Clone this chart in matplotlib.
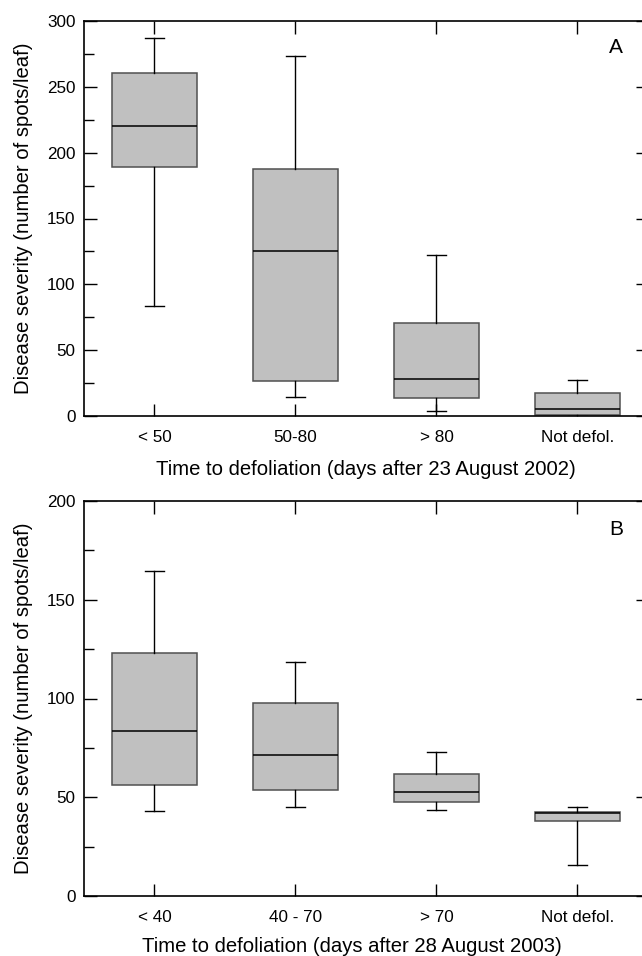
import matplotlib.pyplot as plt
from matplotlib.ticker import MultipleLocator

plt.rcParams['font.family'] = ['Liberation Sans', 'DejaVu Sans']

# Panel A: 2002
cats_a = ['< 50', '50-80', '> 80', 'Not defol.']
whislo_a = [83.5, 14.4, 3.8, 0.0]
q1_a = [189.0, 26.6, 13.9, 0.6]
med_a = [220.3, 125.2, 27.8, 5.1]
q3_a = [260.3, 187.7, 70.3, 17.2]
whishi_a = [287.0, 273.7, 122.0, 27.6]

# Panel B: 2003
cats_b = ['< 40', '40 - 70', '> 70', 'Not defol.']
whislo_b = [43.2, 44.9, 43.7, 15.7]
q1_b = [56.2, 53.5, 47.7, 37.8]
med_b = [83.3, 71.2, 52.8, 41.8]
q3_b = [122.8, 97.8, 61.7, 42.7]
whishi_b = [164.4, 118.7, 72.7, 44.9]


def make_stats(lo, q1, med, q3, hi):
    return [dict(whislo=a, q1=b, med=c, q3=d, whishi=e, fliers=[])
            for a, b, c, d, e in zip(lo, q1, med, q3, hi)]


def draw_panel(ax, stats, cats, ymax, letter, xlabel, xlabel_pos, letter_y):
    ax.bxp(stats, positions=range(1, 5), widths=0.6, patch_artist=True,
           showfliers=False, capwidths=0.14,
           boxprops=dict(facecolor='#c0c0c0', edgecolor='#505050', linewidth=1.1),
           medianprops=dict(color='black', linewidth=1.1),
           whiskerprops=dict(color='black', linewidth=1.0),
           capprops=dict(color='black', linewidth=1.0))
    ax.set_xlim(0.5, 4.5)
    ax.set_ylim(0, ymax)
    ax.set_xticks(range(1, 5))
    ax.set_xticklabels(cats)
    ax.yaxis.set_major_locator(MultipleLocator(50))
    ax.yaxis.set_minor_locator(MultipleLocator(25))
    ax.tick_params(axis='both', which='both', direction='in', labelsize=12.3,
                   top=True, right=True, width=1.0)
    ax.tick_params(axis='x', length=9, pad=9.8)
    ax.tick_params(axis='y', which='major', length=9, pad=6)
    ax.tick_params(axis='y', which='minor', length=7, right=False)
    ax.spines['right'].set_visible(False)
    for s in ['left', 'bottom', 'top']:
        ax.spines[s].set_linewidth(1.2)
    ax.set_ylabel('Disease severity (number of spots/leaf)', fontsize=14.6,
                  labelpad=10)
    ax.set_xlabel(xlabel, fontsize=14.6)
    ax.xaxis.set_label_coords(*xlabel_pos)
    ax.text(0.943, letter_y, letter, transform=ax.transAxes, fontsize=15,
            ha='center', va='baseline')


fig = plt.figure(figsize=(6.42, 9.56), dpi=100)
ax_a = fig.add_axes([84 / 642, 1 - 416 / 956, 564 / 642, 395 / 956])
ax_b = fig.add_axes([84 / 642, 1 - 896 / 956, 564 / 642, 395 / 956])

draw_panel(ax_a, make_stats(whislo_a, q1_a, med_a, q3_a, whishi_a), cats_a,
           300, 'A', 'Time to defoliation (days after 23 August 2002)',
           (0.5, -0.112), 0.919)
draw_panel(ax_b, make_stats(whislo_b, q1_b, med_b, q3_b, whishi_b), cats_b,
           200, 'B', 'Time to defoliation (days after 28 August 2003)',
           (0.475, -0.104), 0.913)

fig.savefig('out.png', dpi=100)
